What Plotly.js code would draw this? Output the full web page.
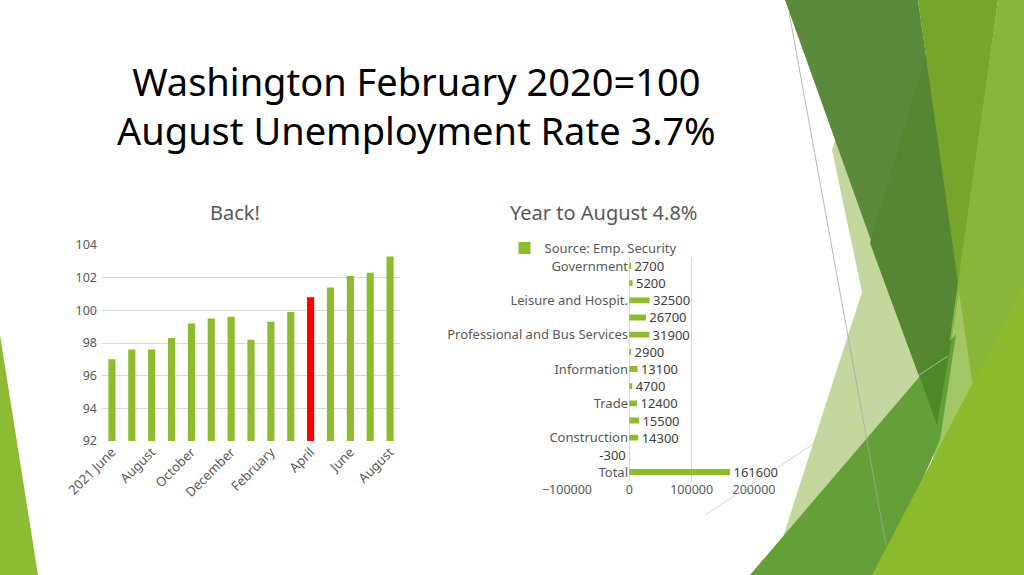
<!DOCTYPE html>
<html>
<head>
<meta charset="utf-8">
<script src="https://cdn.plot.ly/plotly-3.0.1.min.js"></script>
<style>
  html, body { margin: 0; padding: 0; background: #fff; }
  #slide { width: 1024px; height: 575px; }
</style>
</head>
<body>
<div id="slide"></div>
<script>
// --- data ---
const months = ['2021 June', 'July', 'August', 'September', 'October', 'November', 'December',
                'January', 'February', 'March', 'April', 'May', 'June', 'July', 'August'];
const indexValues = [97.0, 97.6, 97.6, 98.3, 99.2, 99.5, 99.6, 98.2, 99.3, 99.9, 100.8, 101.4, 102.1, 102.3, 103.3];
const highlightMonth = 10; // April 2022, drawn red

// bottom to top, as in the bar chart
const sectors = ['Total', 'Mining and Logging', 'Construction', 'Manufacturing', 'Trade',
                 'Transp. and Utilities', 'Information', 'Financial Activities',
                 'Professional and Bus Services', 'Educ. and Health', 'Leisure and Hospit.',
                 'Other Services', 'Government'];
const jobChange = [161600, -300, 14300, 15500, 12400, 4700, 13100, 2900, 31900, 26700, 32500, 5200, 2700];

const W = 1024, H = 575;
const GREEN = '#8FBC2E', RED = '#FF0000', GREY = '#595959', GRID = '#D9D9D9';
const FONT = '"Noto Sans", "Open Sans", sans-serif';
const NBSP = '\u00A0';

// pixel -> paper helpers for the slide decoration
const px = x => x / W;
const py = y => 1 - y / H;
function poly(pts) {
    return pts.map((p, i) => (i ? 'L' : 'M') + px(p[0]).toFixed(4) + ',' + py(p[1]).toFixed(4)).join(' ') + ' Z';
}
function deco(pts, color, opacity) {
    return { type: 'path', xref: 'paper', yref: 'paper', layer: 'below',
             path: poly(pts), fillcolor: color, opacity: opacity || 1, line: { width: 0 } };
}
function thinLine(a, b, color) {
    return { type: 'line', xref: 'paper', yref: 'paper', layer: 'above',
             x0: px(a[0]), y0: py(a[1]), x1: px(b[0]), y1: py(b[1]),
             line: { color: color, width: 0.8 } };
}

const shapes = [
    deco([[832, 150], [862, 292], [782, 540], [830, 520], [925, 380], [900, 200], [845, 110]], '#C3D79F'),
    deco([[785, 0], [918, 0], [960, 290], [937, 425]], '#5B8A3D'),
    deco([[926, 55], [870, 243], [937, 425], [960, 290]], '#578632'),
    deco([[918, 0], [998, 0], [959, 290]], '#76A52A'),
    deco([[998, 0], [1024, 0], [1024, 575], [900, 575], [932, 466]], '#88B638'),
    deco([[959, 292], [932, 466], [950, 468], [975, 400]], '#A9CB70', 0.8),
    deco([[750, 575], [956, 334], [940, 440], [880, 575]], '#63A038'),
    deco([[919.7, 376.5], [951.6, 339], [937, 425]], '#4B8A27'),
    deco([[1024, 285], [1024, 575], [872, 575]], '#8CBA2D'),
    deco([[0, 335], [38, 575], [0, 575]], '#8CBB34'),
    thinLine([789, 12], [886, 545], '#A6A6A6'),
    thinLine([948, 356], [705, 515], '#C8C8C8')
];

const traces = [
    {
        type: 'bar', x: months.map((_, i) => i), y: indexValues,
        marker: { color: indexValues.map((_, i) => i === highlightMonth ? RED : GREEN) },
        width: 0.36, xaxis: 'x', yaxis: 'y', showlegend: false, hoverinfo: 'y'
    },
    {
        type: 'bar', orientation: 'h', x: jobChange, y: sectors,
        name: 'Source: Emp. Security', marker: { color: GREEN },
        text: jobChange.map(v => v < 0 ? v + NBSP : NBSP + v),
        textposition: 'outside', cliponaxis: false, constraintext: 'none',
        textfont: { family: FONT, size: 13, color: '#404040' },
        width: 0.34, xaxis: 'x2', yaxis: 'y2', showlegend: true
    }
];

const tickFont = { family: FONT, size: 12.5, color: GREY };

const layout = {
    width: W, height: H,
    margin: { l: 0, r: 0, t: 0, b: 0 },
    paper_bgcolor: '#FFFFFF', plot_bgcolor: 'rgba(0,0,0,0)',
    font: { family: FONT, color: GREY },
    xaxis: {
        domain: [px(102), px(400)], anchor: 'y', range: [-0.5, months.length - 0.5],
        tickvals: months.map((_, i) => i).filter(i => i % 2 === 0),
        ticktext: months.filter((_, i) => i % 2 === 0),
        tickangle: -45, tickfont: { family: FONT, size: 13, color: GREY },
        showgrid: false, zeroline: false, showline: false, ticks: '', fixedrange: true
    },
    yaxis: {
        domain: [py(441), py(245)], anchor: 'x', range: [92, 104], dtick: 2,
        tickfont: tickFont, gridcolor: GRID, zeroline: false, ticks: '',
        ticklabelstandoff: 4, fixedrange: true
    },
    xaxis2: {
        domain: [px(567), px(754)], anchor: 'y2', range: [-100000, 200000], dtick: 100000,
        tickformat: 'd', tickfont: tickFont, gridcolor: GRID, zeroline: true,
        zerolinecolor: GRID, zerolinewidth: 1, ticks: '', fixedrange: true
    },
    yaxis2: {
        domain: [py(480.6), py(257.4)], anchor: 'free', position: px(630),
        type: 'category', categoryorder: 'array', categoryarray: sectors,
        tickvals: sectors.filter((_, i) => i % 2 === 0),
        ticktext: sectors.filter((_, i) => i % 2 === 0),
        tickfont: { family: FONT, size: 13, color: GREY }, showgrid: false,
        showline: false, ticks: '', ticklabelstandoff: 2, fixedrange: true
    },
    bargap: 0.6,
    showlegend: true,
    legend: {
        x: px(593), y: py(248), xanchor: 'center', yanchor: 'middle',
        font: { family: FONT, size: 13, color: GREY }, bgcolor: 'rgba(0,0,0,0)',
        itemwidth: 30
    },
    annotations: [
        {
            text: 'Washington February 2020=100<br>August Unemployment Rate 3.7%',
            x: px(416), y: py(105), xref: 'paper', yref: 'paper', showarrow: false,
            xanchor: 'center', yanchor: 'middle', align: 'center',
            font: { family: FONT, size: 38, color: '#000000' }
        },
        {
            text: 'Back!', x: px(235), y: py(212), xref: 'paper', yref: 'paper',
            showarrow: false, xanchor: 'center', yanchor: 'middle',
            font: { family: FONT, size: 20, color: GREY }
        },
        {
            text: 'Year to August 4.8%', x: px(603), y: py(212), xref: 'paper', yref: 'paper',
            showarrow: false, xanchor: 'center', yanchor: 'middle',
            font: { family: FONT, size: 20, color: GREY }
        }
    ],
    shapes: shapes
};

Plotly.newPlot('slide', traces, layout, { displayModeBar: false, staticPlot: true });
</script>
</body>
</html>
